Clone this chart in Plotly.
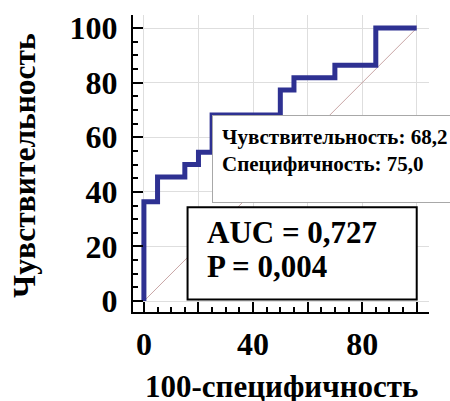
import plotly.graph_objects as go

# ROC curve vertices (100-specificity, sensitivity), step-wise
fpr = [0, 0, 5, 15, 20, 25, 50, 55, 70, 85, 100]
tpr = [0, 36.4, 45.5, 50.0, 54.5, 68.2, 77.3, 81.8, 86.4, 100, 100]
ref_x = [0, 100]
ref_y = [0, 100]

tick_vals = [0, 20, 40, 60, 80, 100]
x_tick_text = ["0", "", "40", "", "80", ""]
y_tick_text = ["0", "20", "40", "60", "80", "100"]

cut_x, cut_y = 25, 68.2
tip_lines = ["Чувствительность: 68,2", "Специфичность: 75,0"]
auc_lines = ["AUC = 0,727", "P = 0,004"]
x_title = "100-специфичность"
y_title = "Чувствительность"

FONT = "Liberation Serif"

fig = go.Figure()
fig.add_trace(go.Scatter(x=ref_x, y=ref_y, mode="lines",
                         line=dict(color="#c9a6a6", width=1), hoverinfo="skip"))
fig.add_trace(go.Scatter(x=fpr, y=tpr, mode="lines", line_shape="hv",
                         line=dict(color="#2e3192", width=5), hoverinfo="skip"))

axis_common = dict(
    showline=True, linecolor="black", linewidth=2,
    ticks="inside", ticklen=10, tickwidth=2, tickcolor="black",
    tickvals=tick_vals,
    minor=dict(ticks="inside", ticklen=5, tickwidth=1.5, tickcolor="black",
               dtick=5, tick0=0, showgrid=False),
    showgrid=True, gridcolor="#dedede", gridwidth=1,
    zeroline=False, automargin=False,
    tickfont=dict(family=FONT, size=32, color="black", weight="bold"),
)

fig.update_layout(
    width=450, height=401,
    margin=dict(l=133, r=21, t=15, b=89),
    paper_bgcolor="white", plot_bgcolor="white",
    showlegend=False,
    xaxis=dict(range=[-4, 104.5], ticktext=x_tick_text, ticklabelstandoff=3, **axis_common),
    yaxis=dict(range=[-4, 104.8], ticktext=y_tick_text, ticklabelstandoff=7, **axis_common),
)

# AUC box
fig.add_shape(type="rect", xref="x", yref="y", x0=16, x1=100, y0=0.6, y1=34.4,
              line=dict(color="black", width=2), fillcolor="white", layer="above")
fig.add_annotation(xref="x", yref="y", x=22.5, y=25, text=auc_lines[0],
                   showarrow=False, xanchor="left", yanchor="middle",
                   font=dict(family=FONT, size=31, color="black", weight="bold"))
fig.add_annotation(xref="x", yref="y", x=22.5, y=12.5, text=auc_lines[1],
                   showarrow=False, xanchor="left", yanchor="middle",
                   font=dict(family=FONT, size=31, color="black", weight="bold"))

# Tooltip box at cut-off point
fig.add_annotation(xref="x", yref="y", x=cut_x, y=cut_y,
                   text="<br>".join(tip_lines), showarrow=False,
                   xanchor="left", yanchor="top", align="left", valign="top",
                   width=260, height=68, borderpad=9, borderwidth=1,
                   bordercolor="#a8a8a8", bgcolor="white",
                   font=dict(family=FONT, size=21, color="black", weight="bold"))

# Axis titles
fig.add_annotation(xref="paper", yref="paper", x=0.5, y=-0.25, text=x_title,
                   showarrow=False, xanchor="center", yanchor="middle",
                   font=dict(family=FONT, size=31, color="black", weight="bold"))
fig.add_annotation(xref="paper", yref="paper", x=-0.365, y=0.495, text=y_title,
                   showarrow=False, xanchor="center", yanchor="middle", textangle=-90,
                   font=dict(family=FONT, size=31.5, color="black", weight="bold"))

fig.write_html("out.html",
               config={"displayModeBar": False},
               post_script="document.body.style.margin='0';"
                           "document.documentElement.style.overflow='hidden';")
